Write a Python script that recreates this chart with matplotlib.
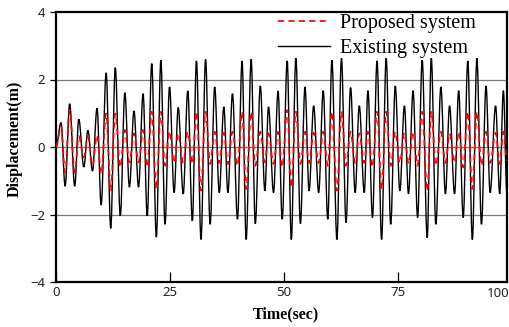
import matplotlib
matplotlib.use("Agg")
import matplotlib.pyplot as plt
from matplotlib.path import Path
from matplotlib.patches import PathPatch
from matplotlib.lines import Line2D

# Time instants of the read extremes (sec)
time_s = [0.0, 1.1, 2.0, 3.0, 4.1, 5.0, 6.1, 7.0, 8.0, 9.0, 9.9,
          11.0, 12.0, 13.0, 14.1, 15.1, 16.1, 17.1, 18.1, 19.1, 20.0,
          21.0, 22.0, 23.0, 23.9, 24.9, 25.9, 26.8, 27.9, 28.9, 29.9,
          30.8, 31.8, 32.8, 33.8, 34.8, 35.8, 36.8, 37.7, 38.7, 39.8,
          40.8, 41.7, 42.8, 43.7, 44.8, 45.8, 46.6, 47.7, 48.7, 49.6,
          50.7, 51.6, 52.6, 53.6, 54.6, 55.5, 56.5, 57.6, 58.6, 59.6,
          60.5, 61.6, 62.6, 63.6, 64.6, 65.6, 66.5, 67.6, 68.4, 69.4,
          70.4, 71.4, 72.4, 73.4, 74.4, 75.4, 76.4, 77.3, 78.3, 79.3,
          80.3, 81.4, 82.3, 83.3, 84.4, 85.4, 86.3, 87.4, 88.3, 89.3,
          90.3, 91.3, 92.3, 93.3, 94.3, 95.2, 96.4, 97.3, 98.1, 98.9]

# Existing system displacement (m)
existing = [0.0, 0.72, -1.16, 1.28, -1.16, 0.82, -0.59, 0.49, -0.71, 1.15, -1.72,
            2.2, -2.41, 2.35, -2.04, 1.61, -1.19, 1.07, -1.19, 1.58, -2.04,
            2.47, -2.67, 2.57, -2.29, 1.78, -1.35, 1.17, -1.39, 1.66, -2.19,
            2.55, -2.74, 2.6, -2.29, 1.78, -1.35, 1.19, -1.35, 1.58, -2.14,
            2.55, -2.74, 2.6, -2.27, 1.81, -1.3, 1.19, -1.35, 1.66, -2.14,
            2.55, -2.74, 2.63, -2.27, 1.78, -1.3, 1.22, -1.35, 1.67, -2.14,
            2.57, -2.74, 2.63, -2.24, 1.76, -1.35, 1.22, -1.35, 1.67, -2.09,
            2.55, -2.74, 2.63, -2.29, 1.81, -1.3, 1.22, -1.39, 1.67, -2.09,
            2.57, -2.69, 2.63, -2.29, 1.78, -1.39, 1.22, -1.39, 1.67, -2.09,
            2.55, -2.74, 2.63, -2.29, 1.81, -1.35, 1.22, -1.39, 1.67, -1.4]

# Proposed system displacement (m)
proposed = [0.0, 0.6, -0.75, 1.1, -0.75, 0.32, -0.3, 0.3, -0.55, 0.35, -0.8,
            1.0, -1.3, 1.0, -0.6, 0.5, -0.45, 0.4, -0.45, 0.5, -0.6,
            1.05, -1.25, 1.05, -0.55, 0.47, -0.47, 0.4, -0.47, 0.45, -0.5,
            1.05, -1.3, 1.05, -0.5, 0.45, -0.47, 0.42, -0.5, 0.45, -0.55,
            1.05, -1.25, 1.05, -0.55, 0.45, -0.45, 0.4, -0.5, 0.45, -0.6,
            1.1, -1.2, 1.05, -0.5, 0.45, -0.47, 0.42, -0.47, 0.45, -0.55,
            1.05, -1.3, 1.05, -0.55, 0.45, -0.47, 0.4, -0.47, 0.45, -0.6,
            1.05, -1.25, 1.05, -0.55, 0.45, -0.47, 0.42, -0.5, 0.45, -0.55,
            1.05, -1.3, 1.05, -0.55, 0.45, -0.47, 0.4, -0.47, 0.45, -0.6,
            1.05, -1.25, 1.05, -0.55, 0.45, -0.47, 0.42, -0.5, 0.45, -0.4]

x_ticks = [0, 25, 50, 75]
y_ticks = [-4, -2, 0, 2, 4]
series_labels = ["Proposed system", "Existing system"]


def smooth_path(xs, ys, k=0.363):
    """Cubic Bezier through the extremes with horizontal tangents at each one."""
    verts = [(xs[0], ys[0])]
    codes = [Path.MOVETO]
    for i in range(1, len(xs)):
        dx = xs[i] - xs[i - 1]
        verts += [(xs[i - 1] + k * dx, ys[i - 1]), (xs[i] - k * dx, ys[i]), (xs[i], ys[i])]
        codes += [Path.CURVE4] * 3
    return Path(verts, codes)


W, H = 509, 327
fig = plt.figure(figsize=(W / 100, H / 100), dpi=100)
ax = fig.add_axes([56 / W, 1 - 282 / H, (507 - 56) / W, (282 - 12) / H])

dash = (0, (3.5, 2.5))
ax.add_patch(PathPatch(smooth_path(time_s, existing), fill=False, edgecolor="black",
                       lw=1.0, zorder=3))
ax.add_patch(PathPatch(smooth_path(time_s, proposed), fill=False, edgecolor="red",
                       lw=1.25, linestyle=dash, zorder=4))

ax.set_xlim(0, 98.9)
ax.set_ylim(-4, 4)
ax.set_xticks(x_ticks)
ax.set_yticks(y_ticks)
for yv in [-2, 0, 2]:
    ax.axhline(yv, color="#7a7a7a", lw=0.9, zorder=1)

tickfont = "Noto Sans"
ax.tick_params(axis="x", direction="in", length=7, width=0.9, pad=3, labelsize=9.5)
ax.tick_params(axis="y", direction="out", length=4, width=0.9, pad=4, labelsize=9.5)
for lab in ax.get_xticklabels() + ax.get_yticklabels():
    lab.set_fontfamily(tickfont)
    lab.set_color("#222222")
ax.text(1.0 + 2 / 451, -0.02, "100", transform=ax.transAxes, ha="right", va="top",
        fontsize=9.5, family=tickfont, color="#222222", clip_on=False)

for sp in ax.spines.values():
    sp.set_linewidth(1.6)

ax.set_xlabel("Time(sec)", family="Liberation Serif", fontweight="bold", fontsize=11.5)
ax.set_ylabel("Displacement(m)", family="Liberation Serif", fontweight="bold", fontsize=11.5)
ax.xaxis.set_label_coords((286 - 56) / 451, (282 - 306) / 270)
ax.yaxis.set_label_coords((23 - 56) / 451, (282 - 139) / 270)

handles = [Line2D([], [], color="red", lw=1.25, ls=dash),
           Line2D([], [], color="black", lw=1.0)]
fig.legend(handles, series_labels,
           loc="upper left", bbox_to_anchor=(278 / W, 1 - 14 / H),
           frameon=False, borderpad=0, borderaxespad=0,
           handlelength=2.6, handletextpad=0.5, labelspacing=0.3,
           prop={"family": "Liberation Serif", "size": 14.5})

fig.savefig("out.png", dpi=100)
